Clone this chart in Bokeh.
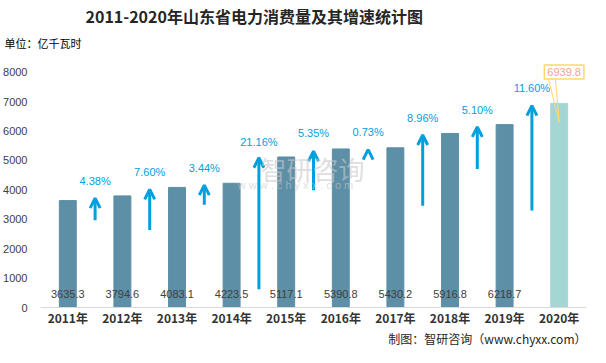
from bokeh.plotting import figure
from bokeh.models import Range1d, FixedTicker, Label, Arrow, OpenHead, ColumnDataSource, LabelSet, Title
from bokeh.core.properties import value
from bokeh.embed import file_html
from bokeh.resources import INLINE

# ---- data ----
years = ["2011年", "2012年", "2013年", "2014年", "2015年", "2016年", "2017年", "2018年", "2019年", "2020年"]
consumption = [3635.3, 3794.6, 4083.1, 4223.5, 5117.1, 5390.8, 5430.2, 5916.8, 6218.7, 6939.8]
growth_labels = ["4.38%", "7.60%", "3.44%", "21.16%", "5.35%", "0.73%", "8.96%", "5.10%", "11.60%"]
arrow_top = [3718, 4017, 4160, 5090, 5312, 5368, 5866, 6142, 6862]
arrow_base = [2965, 2633, 3496, 621, 3984, 5250, 3463, 4705, 3297]
growth_label_y = [4316, 4615, 4748, 5644, 5920, 5953, 6441, 6730, 7470]
y_ticks = [0, 1000, 2000, 3000, 4000, 5000, 6000, 7000, 8000]

CJK = "Noto Sans CJK SC"
BAR = "#5D8FA6"
BAR_LAST = "#A4D7D4"
CYAN = "#00A0DF"
W, H = 590, 347

n = len(years)
xs = list(range(n))
colors = [BAR] * (n - 1) + [BAR_LAST]
value_text = ["%.1f" % v for v in consumption]
value_text[-1] = ""

p = figure(width=W, height=H, x_range=Range1d(-0.5, n - 0.5), y_range=Range1d(0, 8500),
           output_backend="svg", toolbar_location=None, title=None,
           min_border_left=40, min_border_right=4, min_border_top=57, min_border_bottom=39)
p.background_fill_color = "white"
p.border_fill_color = "white"
p.outline_line_color = None
p.grid.visible = False

# axes
p.xaxis.ticker = FixedTicker(ticks=xs)
p.xaxis.major_label_overrides = {i: years[i] for i in xs}
p.xaxis.major_tick_line_color = None
p.xaxis.minor_tick_line_color = None
p.xaxis.major_tick_out = 0
p.xaxis.major_tick_in = 0
p.xaxis.minor_tick_out = 0
p.xaxis.axis_line_color = "#D9D9D9"
p.xaxis.major_label_text_font = CJK
p.xaxis.major_label_text_font_style = "bold"
p.xaxis.major_label_text_font_size = "12px"
p.xaxis.major_label_text_color = "#333333"
p.xaxis.major_label_standoff = 1

p.yaxis.ticker = FixedTicker(ticks=y_ticks)
p.yaxis.axis_line_color = None
p.yaxis.major_tick_line_color = None
p.yaxis.minor_tick_line_color = None
p.yaxis.major_tick_out = 0
p.yaxis.major_tick_in = 0
p.yaxis.minor_tick_out = 0
p.yaxis.major_label_text_font = "Liberation Sans"
p.yaxis.major_label_text_font_size = "11px"
p.yaxis.major_label_text_color = "#404040"
p.yaxis.major_label_standoff = 13

# bars
src = ColumnDataSource(dict(x=xs, top=consumption, color=colors, txt=value_text, ty=[450] * n))
p.vbar(x="x", top="top", width=0.31, color="color", source=src)
p.add_layout(LabelSet(x="x", y="ty", text="txt", source=src, text_align="center",
                      text_baseline="middle", text_font=value("Liberation Sans"), text_font_size="11px",
                      text_color="#404040"))

# growth arrows
gx = [i + 0.5 for i in range(n - 1)]
asrc = ColumnDataSource(dict(x=gx, y0=arrow_base, y1=arrow_top, ly=growth_label_y, txt=growth_labels))
p.add_layout(Arrow(x_start="x", y_start="y0", x_end="x", y_end="y1", source=asrc,
                   line_color=CYAN, line_width=3,
                   end=OpenHead(size=10, line_color=CYAN, line_width=3)))
p.add_layout(LabelSet(x="x", y="ly", text="txt", source=asrc, text_align="center",
                      text_baseline="middle", text_font=value("Liberation Sans"), text_font_size="11px",
                      text_color=CYAN))

# watermark
p.add_layout(Label(x=4.48, y=4740, text="智研咨询", text_font=CJK, text_font_size="26px",
                   text_color="#C8C8C8", text_alpha=0.6, text_align="center", text_baseline="middle"))
p.add_layout(Label(x=4.17, y=4168, text="w w w . c h y x x . c o m", text_font="Liberation Sans",
                   text_font_size="11px", text_color="#C8C8C8", text_alpha=0.6,
                   text_align="center", text_baseline="middle"))

# callout for last value
last = consumption[-1]
p.line(x=[n - 1.2, n - 1], y=[last + 850, last - 650], line_color="#FFD966", line_width=1)
p.line(x=[n - 1.07, n - 1], y=[last + 850, last - 650], line_color="#FFD966", line_width=1)
p.add_layout(Label(x=n - 1 + 0.09, y=last + 1070, text="%.1f" % last, text_font="Liberation Sans",
                   text_font_size="11px", text_color="#F4A09A", text_align="center",
                   text_baseline="middle", border_line_color="#FFD966", border_line_width=1.5,
                   background_fill_color="white", padding=3))

# titles and notes
unit_title = Title(text="单位：亿千瓦时", align="left", offset=-36, text_font=CJK,
                   text_font_size="11px", text_font_style="normal", text_color="#000000",
                   vertical_align="middle", standoff=11)
main_title = Title(text="2011-2020年山东省电力消费量及其增速统计图", align="left", offset=45,
                   text_font=CJK, text_font_size="16px", text_font_style="bold",
                   text_color="#262626", vertical_align="middle", standoff=0)
p.add_layout(unit_title, "above")
p.add_layout(main_title, "above")
footer = Title(text="制图：智研咨询（www.chyxx.com）", align="right", offset=0, text_font=CJK,
               text_font_size="12px", text_font_style="normal", text_color="#262626",
               vertical_align="middle", standoff=0)
p.add_layout(footer, "below")

open("out.html", "w").write(file_html(p, INLINE))
